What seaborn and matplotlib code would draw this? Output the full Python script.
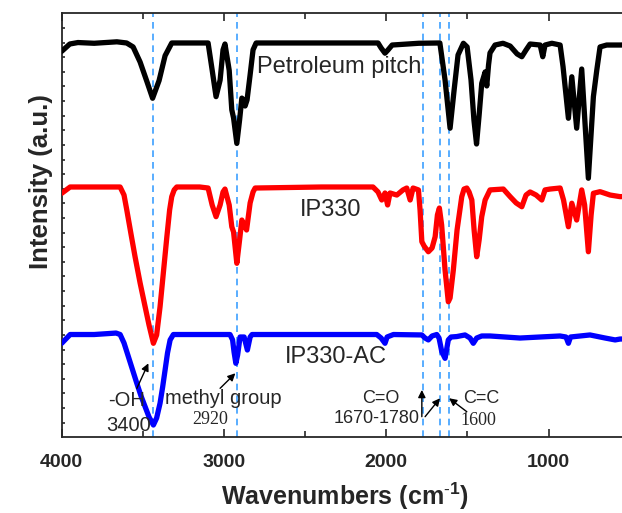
import numpy as np
import pandas as pd
import matplotlib
matplotlib.use("Agg")
import matplotlib.pyplot as plt
from matplotlib.ticker import FixedLocator
import seaborn as sns

# FTIR spectra (wavenumber in cm-1, intensity in arbitrary offset units)
pitch_wn = [4000, 3950, 3900, 3800, 3660, 3600, 3560, 3517, 3474, 3440, 3400, 3363, 3322,
            3200, 3098, 3073, 3049, 3024, 3006, 2994, 2968, 2952, 2941, 2921, 2904, 2890,
            2879, 2870, 2858, 2839, 2821, 2802, 2400, 2051, 2032, 2008, 1989, 1964, 1800,
            1670, 1638, 1607, 1582, 1558, 1525, 1502, 1478, 1460, 1444, 1428, 1412, 1391,
            1381, 1370, 1361, 1330, 1281, 1237, 1194, 1165, 1139, 1114, 1052, 1036, 1022,
            980, 929, 911, 878, 857, 827, 796, 755, 724, 703, 683, 642, 560, 450]
pitch_int = [26.40, 26.90, 27.00, 26.95, 27.05, 26.97, 26.70, 25.67, 24.30, 23.19, 24.40,
             26.10, 26.97, 26.97, 26.97, 25.12, 23.30, 24.43, 26.50, 26.90, 25.10, 22.40,
             21.84, 20.10, 21.70, 23.20, 23.07, 22.66, 23.07, 24.80, 26.50, 26.97, 26.97,
             26.97, 26.63, 26.27, 26.50, 26.83, 26.95, 26.97, 24.44, 21.14, 23.77, 26.15,
             26.95, 26.70, 24.44, 21.70, 20.06, 22.05, 24.21, 24.99, 24.03, 25.47, 26.29,
             26.83, 26.95, 26.76, 26.22, 26.03, 26.49, 26.90, 26.83, 26.03, 26.83, 26.95,
             26.83, 25.35, 21.82, 24.66, 21.14, 25.19, 17.72, 23.30, 25.12, 26.70, 26.83,
             26.83, 26.85]

ip330_wn = [4000, 3948, 3800, 3640, 3616, 3599, 3572, 3548, 3517, 3486, 3462, 3435, 3415,
            3394, 3372, 3352, 3335, 3322, 3307, 3291, 3150, 3098, 3073, 3049, 3024, 3006,
            2994, 2968, 2952, 2941, 2921, 2904, 2890, 2876, 2861, 2839, 2821, 2808, 2400,
            2082, 2051, 2028, 2008, 1992, 1977, 1935, 1897, 1874, 1853, 1835, 1802, 1792,
            1781, 1767, 1741, 1718, 1699, 1685, 1673, 1659, 1638, 1618, 1607, 1587, 1564,
            1535, 1521, 1504, 1490, 1473, 1459, 1443, 1428, 1412, 1391, 1361, 1279, 1237,
            1200, 1165, 1139, 1114, 1077, 1042, 1022, 991, 929, 908, 878, 857, 827, 796,
            778, 755, 738, 724, 683, 621, 560, 450]
ip330_int = [16.69, 17.12, 17.12, 17.12, 16.57, 15.55, 13.84, 12.35, 10.56, 8.93, 7.68,
             6.43, 7.00, 8.93, 11.44, 13.72, 15.55, 16.46, 16.92, 17.12, 17.12, 17.05,
             15.89, 15.09, 15.89, 16.78, 16.98, 15.89, 14.40, 14.04, 11.90, 13.50, 14.86,
             14.52, 14.18, 16.03, 16.78, 17.05, 17.12, 17.12, 16.78, 16.23, 16.71, 15.89,
             16.71, 16.57, 16.92, 17.05, 16.23, 17.05, 16.92, 15.55, 13.38, 13.08, 12.69,
             12.95, 13.72, 15.21, 15.68, 14.52, 11.44, 9.27, 9.53, 11.44, 14.18, 16.46,
             16.98, 17.05, 16.78, 16.23, 14.18, 12.35, 13.50, 15.09, 16.23, 16.92, 16.98,
             16.46, 16.03, 15.77, 16.57, 16.78, 16.57, 16.23, 16.92, 16.98, 17.05, 16.23,
             14.40, 16.01, 14.86, 16.92, 15.89, 12.69, 15.21, 16.69, 16.80, 16.57, 16.46,
             16.50]

ac_wn = [4000, 3948, 3800, 3665, 3640, 3616, 3589, 3563, 3537, 3511, 3486, 3462, 3435,
         3415, 3394, 3378, 3363, 3348, 3332, 3312, 3100, 2963, 2947, 2938, 2927, 2916,
         2901, 2876, 2856, 2839, 2827, 2400, 2059, 2032, 2008, 1995, 1956, 1781, 1761,
         1741, 1718, 1689, 1675, 1658, 1638, 1618, 1601, 1566, 1515, 1484, 1464, 1443,
         1412, 1361, 1176, 930, 893, 878, 865, 745, 652, 590, 560, 450]
ac_int = [6.43, 7.03, 7.03, 7.13, 7.03, 6.45, 5.51, 4.60, 3.69, 2.82, 2.09, 1.39, 0.84,
          1.32, 2.33, 3.44, 4.60, 5.77, 6.66, 7.03, 7.03, 7.03, 6.66, 5.83, 5.06, 5.63,
          6.86, 6.86, 5.97, 6.86, 7.03, 7.03, 7.03, 6.79, 6.43, 6.86, 7.03, 7.00, 6.79,
          6.66, 6.93, 7.03, 6.79, 5.85, 5.40, 6.66, 6.86, 6.89, 7.00, 6.79, 6.43, 6.79,
          6.93, 6.93, 6.79, 6.93, 6.86, 6.43, 6.86, 7.00, 6.79, 6.66, 6.72, 6.75]

sample_names = ["Petroleum pitch", "IP330", "IP330-AC"]
sample_colors = ["#000000", "#ff0000", "#0000ff"]
label_wn = [2291, 2340, 2309]
label_int = [25.35, 15.55, 5.51]

# characteristic bands marked with dashed guides
band_wn = [3440, 2920, 1775, 1670, 1612]

df = pd.concat([
    pd.DataFrame({"wavenumber": pitch_wn, "intensity": pitch_int, "sample": sample_names[0]}),
    pd.DataFrame({"wavenumber": ip330_wn, "intensity": ip330_int, "sample": sample_names[1]}),
    pd.DataFrame({"wavenumber": ac_wn, "intensity": ac_int, "sample": sample_names[2]}),
])

sns.set_style("ticks")
plt.rcParams["font.family"] = ["Liberation Sans", "DejaVu Sans"]
plt.rcParams["mathtext.fontset"] = "custom"
plt.rcParams["mathtext.rm"] = "Liberation Sans"
plt.rcParams["mathtext.bf"] = "Liberation Sans:bold"

fig = plt.figure(figsize=(6.22, 5.13), dpi=100)
W, H = 622, 513
ax = fig.add_axes([61.7 / W, 1 - 437.3 / H, (3550 * 0.1623) / W, 424 / H])

for x in band_wn:
    ax.axvline(x, color="#3ca0ff", lw=1.2, ls=(0, (4, 3)), zorder=1)

sns.lineplot(data=df, x="wavenumber", y="intensity", hue="sample",
             palette=dict(zip(sample_names, sample_colors)), sort=False,
             estimator=None, legend=False, lw=3.8, ax=ax, zorder=3,
             solid_joinstyle="round", solid_capstyle="round")

for name, xw, yi in zip(sample_names, label_wn, label_int):
    ax.text(xw, yi, name, fontsize=17, ha="center", va="center", zorder=4)

ax.set_xlim(4000, 450)
ax.set_ylim(0, 29)

# band annotations
arrow = dict(arrowstyle="-|>", color="black", lw=1.0, mutation_scale=11,
             shrinkA=0, shrinkB=0)
ax.text(3599, 2.55, "-OH", fontsize=14.5, ha="center", va="center")
ax.text(3585, 0.84, "3400", fontsize=14.5, ha="center", va="center")
ax.annotate("", xy=(3466, 5.06), xytext=(3537, 3.35), arrowprops=arrow)

ax.text(3006, 2.62, "methyl group", fontsize=14.5, ha="center", va="center")
ax.text(3086, 1.25, "2920", fontsize=13, ha="center", va="center",
        family="Liberation Serif")
ax.annotate("", xy=(2930, 4.38), xytext=(3024, 3.35), arrowprops=arrow)

ax.text(2032, 2.62, "C=O", fontsize=13, ha="center", va="center")
ax.text(2059, 1.30, "1670-1780", fontsize=13, ha="center", va="center")
ax.annotate("", xy=(1781, 3.24), xytext=(1781, 1.41), arrowprops=arrow)
ax.annotate("", xy=(1669, 2.67), xytext=(1761, 1.41), arrowprops=arrow)

ax.text(1412, 2.62, "C=C", fontsize=13, ha="center", va="center")
ax.text(1435, 1.13, "1600", fontsize=13, ha="center", va="center",
        family="Liberation Serif")
ax.annotate("", xy=(1613, 2.67), xytext=(1504, 1.75), arrowprops=arrow)

# axes styling
ax.xaxis.set_major_locator(FixedLocator([4000, 3000, 2000, 1000]))
ax.xaxis.set_minor_locator(FixedLocator([3500, 2500, 1500, 500]))
ax.set_yticks(np.arange(1, 29))
ax.tick_params(axis="x", which="major", direction="in", length=6, width=1.2,
               pad=12, labelsize=14, top=True)
ax.tick_params(axis="x", which="minor", direction="in", length=4, width=1.2,
               top=True)
ax.tick_params(axis="y", which="major", direction="in", length=2.5, width=1.2,
               labelleft=False)
for lab in ax.get_xticklabels():
    lab.set_fontweight("bold")

for s in ax.spines.values():
    s.set_linewidth(1.3)

ax.set_xlabel("")
ax.set_ylabel("")
fig.text(345 / W, 1 - 496 / H, r"Wavenumbers (cm$^{\mathbf{\text{-}1}}$)", fontsize=18,
         fontweight="bold", ha="center", va="center")
fig.text(41 / W, 1 - 182 / H, "Intensity (a.u.)", fontsize=18.5, fontweight="bold",
         ha="center", va="center", rotation=90)

fig.savefig("out.png", dpi=100)
